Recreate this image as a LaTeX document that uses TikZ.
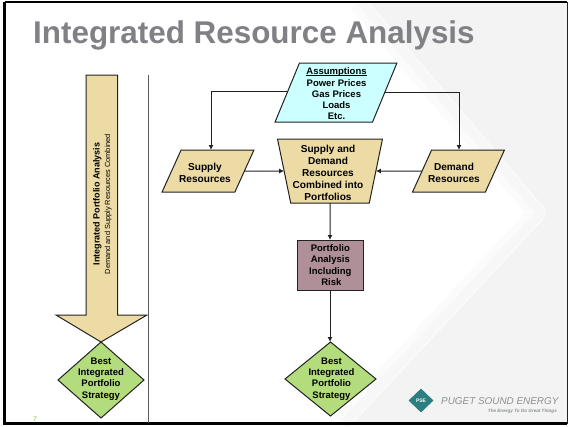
\documentclass[tikz,border=0pt]{standalone}
\usepackage{fontspec}
\setmainfont{Liberation Sans}
\usetikzlibrary{shapes.geometric,arrows.meta}
\definecolor{tan}{HTML}{EDDBA5}
\definecolor{aqua}{HTML}{CCFFFF}
\definecolor{leaf}{HTML}{B3DC7C}
\definecolor{mauve}{HTML}{B09098}
\definecolor{ink}{HTML}{222222}
\definecolor{titlegrey}{HTML}{808085}
\definecolor{wash}{HTML}{F3F3F3}
\definecolor{logoteal}{HTML}{2C7F80}
\definecolor{logotext}{HTML}{8A9090}
\newcommand{\blankbody}{\phantom{M}}
\newcommand{\underrule}[1]{\setbox0\hbox{#1}\rlap{\rule[-1.2pt]{\wd0}{0.7pt}}#1}
\tikzset{
  x=1pt,y=-1pt,
  shape base/.style={draw=ink,line width=1pt,inner sep=0pt,outer sep=0pt},
  slanted/.style={shape base,trapezium,trapezium stretches=true,trapezium left angle=#1,trapezium right angle=180-#1,minimum height=42pt},
  resource/.style={slanted=66.8,fill=tan,minimum width=92pt},
  funnel/.style={shape base,trapezium,trapezium stretches=true,trapezium left angle=101.5,trapezium right angle=101.5,fill=tan,minimum width=105pt,minimum height=64pt},
  choice/.style={shape base,diamond,aspect=1.17,fill=leaf},
  link/.style={draw=ink,line width=1pt,-{Latex[length=5pt,width=5pt]}},
  big text/.style={inner sep=0pt,align=center,text=black,font=\fontsize{10.1}{12.2}\selectfont\bfseries},
  small text/.style={inner sep=0pt,align=center,text=black,font=\fontsize{9.5}{11.2}\selectfont\bfseries},
}
\begin{document}
\begin{tikzpicture}
\useasboundingbox (0,0) rectangle (569,426);
\fill[white] (0,0) rectangle (569,426);
% background wash with a soft edge
\fill[wash] (358,3) -- (537,213) -- (341,423) -- (567,423) -- (567,3) -- cycle;
\draw[wash!35,line width=18pt,line join=round] (358,3) -- (537,213) -- (341,423);
\draw[wash!65,line width=9pt,line join=round] (362,3) -- (541,213) -- (345,423);
% frame
\draw[black,line width=2.4pt] (4.5,2) -- (567,2);
\draw[black,line width=2.6pt] (4.5,2) -- (4.5,423.5) -- (567,423.5);
\draw[ink,line width=1pt] (567,2) -- (567,423.5);
% title
\node[anchor=base west,inner sep=0pt,text=titlegrey,font=\fontsize{31.4}{34}\selectfont\bfseries] (title) at (33,43) {Integrated Resource Analysis};
% left arrow
\draw[shape base,fill=tan] (86,75) -- (117.5,75) -- (117.5,315) -- (147,315) -- (101,342) -- (56,315) -- (86,315) -- cycle;
\node[rotate=90,inner sep=0pt,align=center,text=black] (arrowlabel) at (102.5,204)
  {{\fontsize{9}{11}\selectfont\bfseries Integrated Portfolio Analysis}\\[-1.5pt]{\fontsize{7.4}{9}\selectfont Demand and Supply Resources Combined}};
% divider
\draw[draw=black!65,line width=1pt] (148.5,75) -- (148.5,423);
% flow nodes
\node[slanted=68,fill=aqua,minimum width=122pt,minimum height=59pt] (assume) at (336,92.5) {\blankbody};
\node[small text] (assumetext) at (336.5,94) {\underrule{Assumptions}\\Power Prices\\Gas Prices\\Loads\\Etc.};
\node[resource] (supply) at (208,171) {\blankbody};
\node[big text] (supplytext) at (205,172.8) {Supply\\Resources};
\node[resource] (demand) at (458.5,171) {\blankbody};
\node[big text] (demandtext) at (454,172.8) {Demand\\Resources};
\node[funnel] (combine) at (330,171) {\blankbody};
\node[big text] (combinetext) at (328,172.8) {Supply and\\Demand\\Resources\\Combined into\\Portfolios};
\node[shape base,fill=mauve,minimum width=66pt,minimum height=50pt] (risk) at (330,265) {};
\node[small text] (risktext) at (330.3,265) {Portfolio\\Analysis\\Including\\\hspace*{2pt}Risk};
\node[choice,minimum width=91pt,minimum height=74pt] (best) at (330.5,379) {};
\node[small text] (besttext) at (331.5,379) {Best\\Integrated\\Portfolio\\Strategy};
\node[choice,minimum width=86pt,minimum height=76pt] (bestleft) at (101,380) {};
\node[small text] (bestlefttext) at (101,379) {Best\\Integrated\\Portfolio\\Strategy};
% connectors
\coordinate (lturn) at (211,91);
\coordinate (rturn) at (459,92);
\draw[link] (assume.west |- lturn) -- (lturn) -- (lturn |- supply.north);
\draw[link] (assume.east |- rturn) -- (rturn) -- (rturn |- demand.north);
\draw[link] (supply.east) -- (combine.west);
\draw[link] (demand.west) -- (combine.east);
\draw[link] (combine.south) -- (risk.north);
\draw[link] (risk.south) -- (risk.south |- best.north);
% page number
\node[text=leaf,font=\fontsize{7}{8}\selectfont\bfseries,inner sep=0pt] (pageno) at (35,419) {7};
% logo
\node[diamond,fill=logoteal,minimum width=25pt,minimum height=24pt,inner sep=0pt,text=white,font=\fontsize{5}{6}\selectfont\bfseries] (logo) at (421,400.5) {PSE};
\node[anchor=west,inner sep=0pt,text=logotext,font=\fontsize{9.9}{12}\selectfont\itshape] (logoname) at (441,401) {PUGET SOUND ENERGY};
\node[anchor=east,inner sep=0pt,text=logotext,font=\fontsize{4.6}{6}\selectfont\itshape\bfseries] (logotag) at (557,411) {The Energy To Do Great Things};
\end{tikzpicture}
\end{document}
